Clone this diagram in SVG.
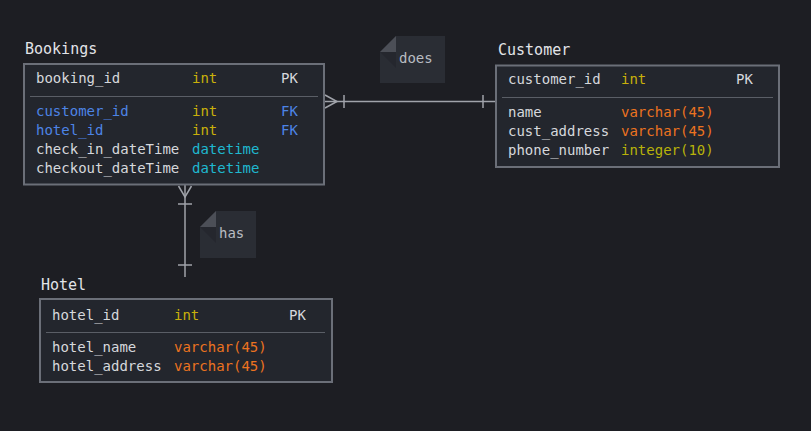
<svg xmlns="http://www.w3.org/2000/svg" width="811" height="431" viewBox="0 0 811 431">
<style>
text{font-family:"DejaVu Sans Mono","Liberation Mono",monospace;font-size:14px;fill:#d6d8dc}
.title{font-size:15px;fill:#e2e4e8}
.box{fill:#23262d;stroke:#6b6f78;stroke-width:2}
.div{stroke:#5a5e66;stroke-width:1}
.int{fill:#c9b00a}
.fk{fill:#4d84e6}
.dt{fill:#1fb8d0}
.vc{fill:#ec7320}
.ig{fill:#b8b20a}
.conn{stroke:#a0a3aa;stroke-width:1.5;fill:none}
.note{fill:#2a2d34}
.fold{fill:#4c4f57}
.shade{fill:#25272e}
.lbl{fill:#b9bcc2}
</style>
<rect width="811" height="431" fill="#1d1e23"/>
<g id="connectors">
<path class="conn" d="M324 101.5H496"/>
<path class="conn" d="M325 95L337 101.5L325 108"/>
<path class="conn" d="M344 95V108"/>
<path class="conn" d="M483 95V108"/>
<path class="conn" d="M185 185V277"/>
<path class="conn" d="M178.5 186L185 197L191.5 186"/>
<path class="conn" d="M178 204H192"/>
<path class="conn" d="M178 265H192"/>
</g>
<g id="label-does">
<polygon class="note" points="396,36 445,36 445,83 380,83 380,52"/>
<polygon class="shade" points="380,52 396,52 396,68"/>
<polygon class="fold" points="380,52 396,36 396,52"/>
<text class="lbl" x="399" y="63">does</text>
</g>
<g id="label-has">
<polygon class="note" points="216,211 256,211 256,258 200,258 200,227"/>
<polygon class="shade" points="200,227 216,227 216,243"/>
<polygon class="fold" points="200,227 216,211 216,227"/>
<text class="lbl" x="219" y="238">has</text>
</g>
<g id="Bookings">
<text class="title" x="25" y="54">Bookings</text>
<rect class="box" x="24" y="64" width="300" height="120.5"/>
<line class="div" x1="30" y1="96.5" x2="318" y2="96.5"/>
<text x="36" y="83">booking_id</text><text class="int" x="192" y="83">int</text><text x="281" y="83">PK</text>
<text class="fk" x="36" y="116">customer_id</text><text class="int" x="192" y="116">int</text><text class="fk" x="281" y="116">FK</text>
<text class="fk" x="36" y="135">hotel_id</text><text class="int" x="192" y="135">int</text><text class="fk" x="281" y="135">FK</text>
<text x="36" y="154">check_in_dateTime</text><text class="dt" x="192" y="154">datetime</text>
<text x="36" y="173">checkout_dateTime</text><text class="dt" x="192" y="173">datetime</text>
</g>
<g id="Customer">
<text class="title" x="498" y="55">Customer</text>
<rect class="box" x="496" y="65.5" width="283" height="101.5"/>
<line class="div" x1="502" y1="97.5" x2="773" y2="97.5"/>
<text x="508" y="84">customer_id</text><text class="int" x="621" y="84">int</text><text x="736" y="84">PK</text>
<text x="508" y="117">name</text><text class="vc" x="621" y="117">varchar(45)</text>
<text x="508" y="136">cust_address</text><text class="vc" x="621" y="136">varchar(45)</text>
<text x="508" y="155">phone_number</text><text class="ig" x="621" y="155">integer(10)</text>
</g>
<g id="Hotel">
<text class="title" x="41" y="290">Hotel</text>
<rect class="box" x="40" y="299" width="292" height="83"/>
<line class="div" x1="46" y1="332.5" x2="325" y2="332.5"/>
<text x="52" y="320">hotel_id</text><text class="int" x="174" y="320">int</text><text x="289" y="320">PK</text>
<text x="52" y="352">hotel_name</text><text class="vc" x="174" y="352">varchar(45)</text>
<text x="52" y="371">hotel_address</text><text class="vc" x="174" y="371">varchar(45)</text>
</g>
</svg>
